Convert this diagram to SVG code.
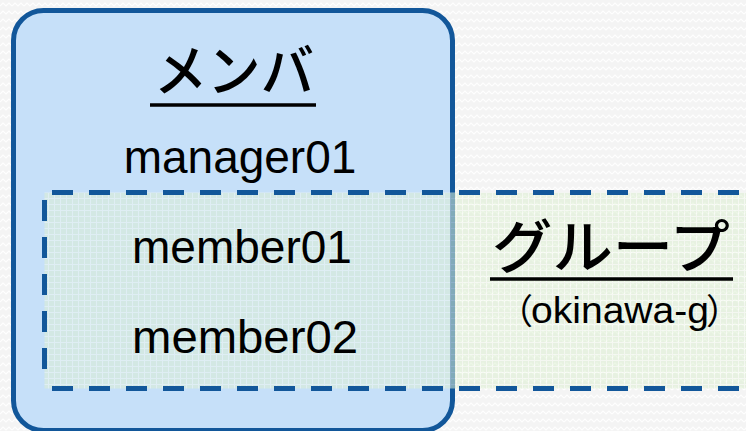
<svg xmlns="http://www.w3.org/2000/svg" width="746" height="431" viewBox="0 0 746 431">
  <defs>
    <pattern id="zig" width="12" height="8" patternUnits="userSpaceOnUse">
      <rect width="12" height="8" fill="#F4F4F4"/>
      <path d="M0 6 L3 3 L6 6 L9 3 L12 6" fill="none" stroke="#FFFFFF" stroke-width="1.2"/>
    </pattern>
    <pattern id="grid" width="6" height="6" patternUnits="userSpaceOnUse">
      <rect width="6" height="6" fill="#DDEFD2"/>
      <path d="M0 0.5 H6 M0.5 0 V6" fill="none" stroke="#F4FAEF" stroke-width="1"/>
    </pattern>
    <style>
      .jp { font-family: "Noto Sans CJK JP", "Noto Sans", sans-serif; fill: #000; }
      .jpb { font-weight: 500; }
      .lat { font-family: "Liberation Sans", Arial, sans-serif; fill: #000; }
      .ul { stroke: #000; stroke-width: 3.5; }
      .dash { stroke: #12579A; stroke-width: 5; stroke-dasharray: 21 16; fill: none; }
    </style>
  </defs>

  <rect x="0" y="0" width="746" height="431" fill="url(#zig)"/>

  <g id="members">
    <rect x="13.5" y="10.5" width="439" height="420" rx="30" ry="30" fill="#C6E0F9" stroke="#12579A" stroke-width="5"/>
  </g>

  <g id="group">
    <rect x="44.5" y="192.5" width="720" height="196" fill="url(#grid)" fill-opacity="0.55"/>
    <line class="dash" x1="52" y1="192.5" x2="760" y2="192.5"/>
    <line class="dash" x1="52" y1="388.5" x2="760" y2="388.5"/>
    <line class="dash" x1="44.5" y1="200" x2="44.5" y2="381"/>
    <text class="jp jpb" x="611" y="268" font-size="58" text-anchor="middle" textLength="238" lengthAdjust="spacingAndGlyphs">グループ</text>
    <line class="ul" x1="490" y1="279" x2="733" y2="279"/>
    <text class="jp" x="498" y="324" font-size="35">（</text>
    <text class="lat" x="531" y="323" font-size="37" textLength="178" lengthAdjust="spacingAndGlyphs">okinawa-g</text>
    <text class="jp" x="706" y="324" font-size="35">）</text>
  </g>

  <g id="members-labels">
    <text class="jp jpb" x="234" y="91" font-size="56" text-anchor="middle" textLength="160" lengthAdjust="spacingAndGlyphs">メンバ</text>
    <line class="ul" x1="150" y1="105" x2="316" y2="105"/>
    <text class="lat" x="240" y="173" font-size="46" text-anchor="middle">manager01</text>
    <text class="lat" x="132" y="263" font-size="46">member01</text>
    <text class="lat" x="132" y="353" font-size="46" textLength="226" lengthAdjust="spacingAndGlyphs">member02</text>
  </g>
</svg>
